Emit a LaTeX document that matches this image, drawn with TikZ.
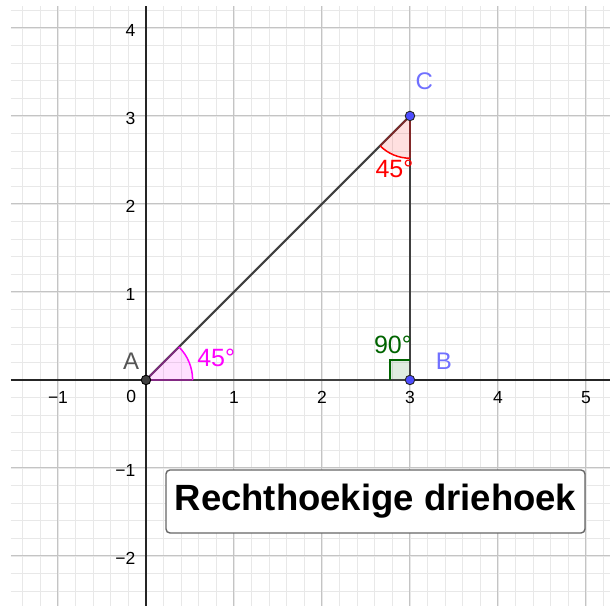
\documentclass[tikz,border=0pt]{standalone}
\usepackage{fontspec}
\setmainfont{Liberation Sans}
\definecolor{gmajor}{HTML}{C4C4C4}
\definecolor{gminor}{HTML}{E8E8E8}
\definecolor{axiscol}{HTML}{252525}
\definecolor{edgecol}{HTML}{404040}
\definecolor{ptblue}{HTML}{4D4DFF}
\definecolor{lblblue}{HTML}{7070FF}
\definecolor{lblgray}{HTML}{555555}
\definecolor{angmag}{HTML}{FF00FF}
\definecolor{angred}{HTML}{FF0000}
\definecolor{anggreen}{HTML}{006400}
\definecolor{boxcol}{HTML}{666666}
\begin{document}
\begin{tikzpicture}[x=88pt,y=88pt,
  minorgrid/.style={draw=gminor,line width=0.9pt},
  majorgrid/.style={draw=gmajor,line width=1pt},
  axisline/.style={draw=axiscol,line width=1.5pt},
  edge/.style={draw=edgecol,line width=2.1pt},
  ticklbl/.style={inner sep=0pt,font=\fontsize{17.5}{19}\selectfont,text=black},
  ptlbl/.style={inner sep=0pt,font=\fontsize{24}{27}\selectfont},
  anglbl/.style={inner sep=0pt,font=\fontsize{25}{28}\selectfont},
  ptdark/.style={circle,inner sep=0pt,minimum size=9.5pt,fill=edgecol,draw=black,line width=0.9pt},
  ptbl/.style={circle,inner sep=0pt,minimum size=9.5pt,fill=ptblue,draw=axiscol,line width=0.9pt},
  titlebox/.style={draw=boxcol,line width=1.4pt,rounded corners=4pt,fill=white,
    minimum width=419pt,minimum height=63pt,inner sep=0pt,
    font=\fontsize{36.5}{40}\selectfont\bfseries}
]
\fill[white] (-1.659,-2.568) rectangle (5.273,4.318);
\useasboundingbox (-1.659,-2.568) rectangle (5.273,4.318);
% grid
\draw[minorgrid] (-1.534,-2.568) grid[step=0.2] (5.273,4.25);
\draw[majorgrid] (-1.534,-2.568) grid[step=1] (5.273,4.25);
% axes
\coordinate (xl) at (-1.534,0);
\coordinate (xr) at (5.273,0);
\coordinate (yb) at (0,-2.568);
\coordinate (yt) at (0,4.25);
\draw[axisline] (xl) -- (xr);
\draw[axisline] (yb) -- (yt);
% tick labels
\foreach \v/\t in {-1/−1,1/1,2/2,3/3,4/4,5/5}
  \node[ticklbl] (xt\v) at (\v,-0.195) {\t};
\foreach \v/\t in {-2/−2,-1/−1,1/1,2/2,3/3,4/4}
  \node[ticklbl,anchor=east] (yt\v) at (-0.118,\v-0.028) {\t};
\node[ticklbl] (zero) at (-0.167,-0.193) {0};
% points
\coordinate (A) at (0,0);
\coordinate (B) at (3,0);
\coordinate (C) at (3,3);
% angle fills
\fill[angmag,fill opacity=0.12] (A) -- ++(0:0.53) arc[start angle=0,end angle=45,radius=0.53] -- cycle;
\fill[angred,fill opacity=0.12] (C) -- ++(225:0.48) arc[start angle=225,end angle=270,radius=0.48] -- cycle;
\fill[anggreen,fill opacity=0.12] (B) ++(-0.227,0) rectangle ++(0.227,0.227);
% triangle
\draw[edge] (A) -- (B);
\draw[edge] (B) -- (C);
\draw[edge] (C) -- (A);
% angle outlines
\draw[angmag,line width=1.5pt] (A) ++(0:0.53) arc[start angle=0,end angle=45,radius=0.53];
\draw[angmag,line width=1.5pt,draw opacity=0.35] (A) -- ++(0:0.53);
\draw[angmag,line width=1.5pt,draw opacity=0.35] (A) -- ++(45:0.53);
\draw[angred,line width=1.5pt] (C) ++(225:0.48) arc[start angle=225,end angle=270,radius=0.48];
\draw[angred,line width=1.5pt,draw opacity=0.35] (C) -- ++(225:0.48);
\draw[angred,line width=1.5pt,draw opacity=0.35] (C) -- ++(270:0.48);
\draw[anggreen,line width=1.5pt] (B) ++(-0.227,0) -- ++(0,0.227) -- ++(0.227,0);
% point markers
\node[ptdark] (pA) at (A) {};
\node[ptbl] (pB) at (B) {};
\node[ptbl] (pC) at (C) {};
% labels
\node[ptlbl,text=lblgray] (lA) at (-0.170,0.210) {A};
\node[ptlbl,text=lblblue] (lB) at (3.386,0.216) {B};
\node[ptlbl,text=lblblue] (lC) at (3.163,3.40) {C};
\node[anglbl,text=angmag] (aA) at (0.798,0.256) {45°};
\node[anglbl,text=angred] (aC) at (2.824,2.401) {45°};
\node[anglbl,text=anggreen] (aB) at (2.807,0.398) {90°};
% title
\node[titlebox] (title) at (2.608,-1.381) {Rechthoekige driehoek};
\end{tikzpicture}
\end{document}
